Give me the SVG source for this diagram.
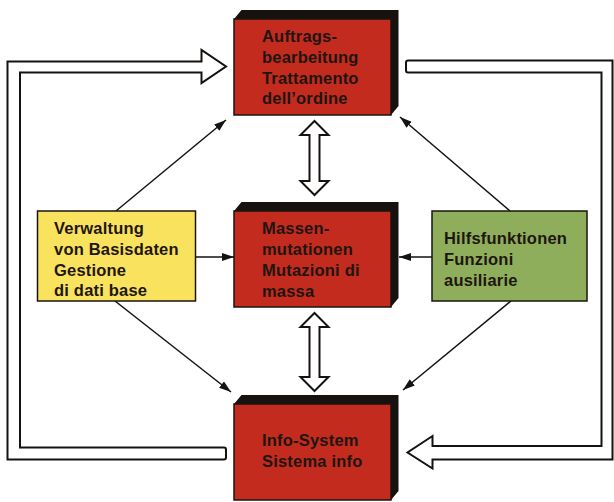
<svg xmlns="http://www.w3.org/2000/svg" width="614" height="502" viewBox="0 0 614 502">
<style>
.bg{fill:#ffffff}
.front{fill:#c42b1f;stroke:#1a1410;stroke-width:1.5}
.shadow{fill:#151210}
.yellow{fill:#f9e25e;stroke:#1a1410;stroke-width:1.5}
.green{fill:#8fae5c;stroke:#1a1410;stroke-width:1.5}
.hollow{fill:#ffffff;stroke:#151210;stroke-width:2;stroke-linejoin:miter}
.line{fill:none;stroke:#151210;stroke-width:1.5}
text{font-family:"Liberation Sans",Arial,sans-serif;font-size:16.5px;font-weight:bold;letter-spacing:0.2px;fill:#1e1610}
</style>
<defs>
<marker id="ah" viewBox="0 0 12 8" refX="12" refY="4" markerWidth="12" markerHeight="8" markerUnits="userSpaceOnUse" orient="auto">
<path d="M0 0 L12 4 L0 8 Z" fill="#151210"/>
</marker>
</defs>
<rect class="bg" x="0" y="0" width="614" height="502"/>
<g id="connectors">
<path class="hollow" d="M7.5 459.5 L7.5 61.5 L201.5 61.5 L201.5 50 L226 66.5 L201.5 83 L201.5 72.5 L20 72.5 L20 447.5 L224 447.5 Q226 447.5 226 449.5 L226 457.5 Q226 459.5 224 459.5 Z"/>
<path class="hollow" d="M408 60.5 L612.5 60.5 L612.5 459.5 L432.5 459.5 L432.5 468.5 L407.5 452.5 L432.5 436 L432.5 446 L601.5 446 L601.5 72.5 L408 72.5 Q406 72.5 406 70.5 L406 62.5 Q406 60.5 408 60.5 Z"/>
<path class="hollow" d="M314.5 121 L328.5 135 L319.5 135 L319.5 181 L328.5 181 L314.5 195 L300.5 181 L309.5 181 L309.5 135 L300.5 135 Z"/>
<path class="hollow" d="M314.5 313 L328.5 327 L319.5 327 L319.5 377 L328.5 377 L314.5 391 L300.5 377 L309.5 377 L309.5 327 L300.5 327 Z"/>
<line class="line" x1="116" y1="211" x2="226" y2="120" marker-end="url(#ah)"/>
<line class="line" x1="510" y1="211" x2="400" y2="117" marker-end="url(#ah)"/>
<line class="line" x1="115" y1="301" x2="231" y2="392" marker-end="url(#ah)"/>
<line class="line" x1="511" y1="301" x2="403" y2="390" marker-end="url(#ah)"/>
<line class="line" x1="196" y1="257" x2="234" y2="257" marker-end="url(#ah)"/>
<line class="line" x1="432" y1="257" x2="399" y2="257" marker-end="url(#ah)"/>
</g>
<g id="auftrag">
<polygon class="shadow" points="234,19 241.5,10 398.5,10 398.5,106 391,115 391,19"/>
<rect class="front" x="234" y="19" width="157" height="96"/>
<text x="262" y="41.5">Auftrags-</text>
<text x="262" y="62.5">bearbeitung</text>
<text x="262" y="83.5">Trattamento</text>
<text x="262" y="104">dell’ordine</text>
</g>
<g id="massen">
<polygon class="shadow" points="234,211 241.5,202 398.5,202 398.5,298 391,307 391,211"/>
<rect class="front" x="234" y="211" width="157" height="96"/>
<text x="262" y="234">Massen-</text>
<text x="262" y="255">mutationen</text>
<text x="262" y="276">Mutazioni di</text>
<text x="262" y="297">massa</text>
</g>
<g id="info">
<polygon class="shadow" points="234,404 241.5,395 398.5,395 398.5,491 391,500 391,404"/>
<rect class="front" x="234" y="404" width="157" height="96"/>
<text x="262" y="446">Info-System</text>
<text x="262" y="467">Sistema info</text>
</g>
<g id="verwaltung">
<rect class="yellow" x="37.5" y="211" width="158" height="90"/>
<text x="54" y="234">Verwaltung</text>
<text x="54" y="255">von Basisdaten</text>
<text x="54" y="276">Gestione</text>
<text x="54" y="296">di dati base</text>
</g>
<g id="hilfs">
<rect class="green" x="432" y="211" width="155" height="90"/>
<text x="444" y="244">Hilfsfunktionen</text>
<text x="444" y="265">Funzioni</text>
<text x="444" y="286">ausiliarie</text>
</g>
</svg>
